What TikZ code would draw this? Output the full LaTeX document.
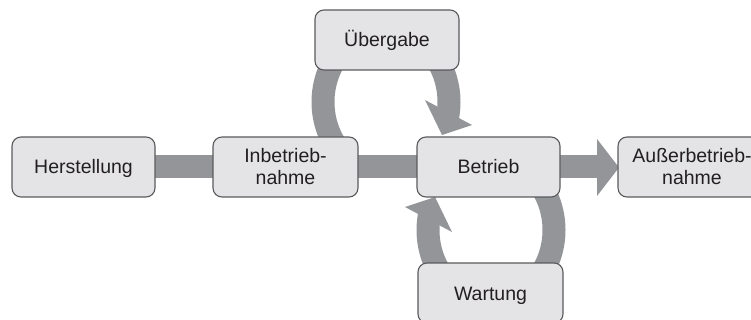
\documentclass[tikz,border=0pt]{standalone}
\usepackage{fontspec}
\setmainfont{Liberation Sans}
\usetikzlibrary{backgrounds}
\definecolor{boxfill}{HTML}{E4E4E6}
\definecolor{boxline}{HTML}{5A5A5C}
\definecolor{bandcol}{HTML}{939598}
\definecolor{txt}{HTML}{231F20}
\begin{document}
\begin{tikzpicture}[x=1pt,y=-1pt,
  stage/.style={draw=boxline, line width=1.1pt, fill=boxfill, rounded corners=9pt,
    minimum height=60pt, inner sep=0pt, text=txt, font=\fontsize{19.5}{22}\selectfont},
  one/.style={text height=14pt, text depth=0pt},
  two/.style={align=center},
  band/.style={draw=bandcol, line width=23pt},
  head/.style={fill=bandcol, draw=none}]
\useasboundingbox (0,0) rectangle (751,320);
\node[stage, one, minimum width=143pt] (h) at (83.5,167) {Herstellung};
\node[stage, two, minimum width=145pt] (i) at (285.5,167) {Inbetrieb-\\nahme};
\node[stage, one, minimum width=143pt] (b) at (488.5,167) {Betrieb};
\node[stage, two, minimum width=148pt] (a) at (692,167) {Außerbetrieb-\\nahme};
\node[stage, one, minimum width=144pt] (u) at (387,40) {Übergabe};
\node[stage, one, minimum width=145pt] (w) at (490.5,293) {Wartung};
\coordinate (ah) at (598,167);
\begin{scope}[on background layer]
  \draw[band] (h.center) -- (i.center);
  \draw[band] (i.center) -- (b.center);
  \draw[band] (b.center) -- (ah);
  \fill[head] (597,139) -- (619,167.5) -- (597,196) -- cycle;
  % upper loop
  \draw[band] plot[variable=\t, domain=215:-12, samples=80, smooth]
    ({386+63*cos(\t)}, {102-72*sin(\t)});
  \fill[head] (425,100) -- (472,125) -- (442,135) -- cycle;
  % lower loop
  \draw[band] plot[variable=\t, domain=35:-192, samples=80, smooth]
    ({491+63*cos(\t)}, {230-72*sin(\t)});
  \fill[head] (452,232) -- (405,207) -- (435,197) -- cycle;
\end{scope}
\end{tikzpicture}
\end{document}
